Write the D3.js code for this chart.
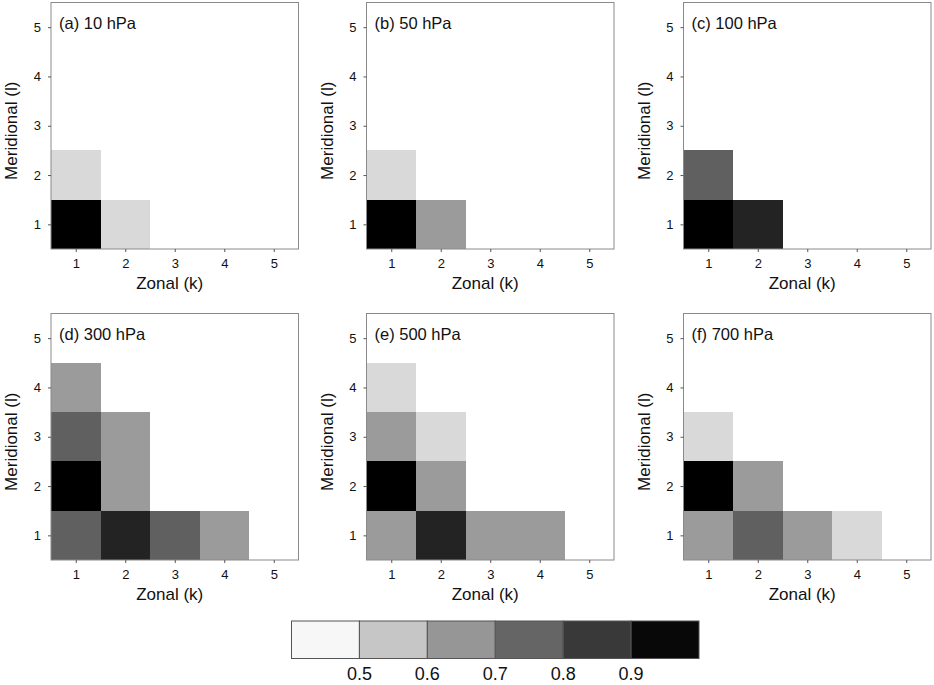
<!DOCTYPE html>
<html><head><meta charset="utf-8">
<script src="https://cdn.jsdelivr.net/npm/d3@7/dist/d3.min.js"></script>
<style>
body{margin:0;background:#fff;}
text{font-family:"Liberation Sans",Arial,Helvetica,sans-serif;fill:#111;}
</style></head>
<body><svg id="c" width="934" height="685"></svg>
<script>
// ---- data ----
const panelTitles = ["(a) 10 hPa","(b) 50 hPa","(c) 100 hPa","(d) 300 hPa","(e) 500 hPa","(f) 700 hPa"];
const zonalTicks = [1,2,3,4,5];
const meridTicks = [1,2,3,4,5];
// grids: rows = meridional l = 1..5, columns = zonal k = 1..5 (null = no value)
const grid10  = [[0.95,0.55,null,null,null],[0.55,null,null,null,null],[null,null,null,null,null],[null,null,null,null,null],[null,null,null,null,null]];
const grid50  = [[0.95,0.65,null,null,null],[0.55,null,null,null,null],[null,null,null,null,null],[null,null,null,null,null],[null,null,null,null,null]];
const grid100 = [[0.95,0.85,null,null,null],[0.75,null,null,null,null],[null,null,null,null,null],[null,null,null,null,null],[null,null,null,null,null]];
const grid300 = [[0.75,0.85,0.75,0.65,null],[0.95,0.65,null,null,null],[0.75,0.65,null,null,null],[0.65,null,null,null,null],[null,null,null,null,null]];
const grid500 = [[0.65,0.85,0.65,0.65,null],[0.95,0.65,null,null,null],[0.65,0.55,null,null,null],[0.55,null,null,null,null],[null,null,null,null,null]];
const grid700 = [[0.65,0.75,0.65,0.55,null],[0.95,0.65,null,null,null],[0.55,null,null,null,null],[null,null,null,null,null],[null,null,null,null,null]];
const grids = [grid10,grid50,grid100,grid300,grid500,grid700];
const breaks = [0.5,0.6,0.7,0.8,0.9];
const barLabels = ["0.5","0.6","0.7","0.8","0.9"];
const barDomain = [0.4,0.5,0.6,0.7,0.8,0.9,1.0];
const cellColors = ["#f4f4f4","#d9d9d9","#9b9b9b","#606060","#232323","#000000"];
const barColors  = ["#f7f7f7","#c6c6c6","#969696","#656565","#393939","#080808"];

// ---- layout ----
const svg = d3.select("#c");
const lefts = [51,366.5,683.5], tops = [2.5,313.5];
const W = 247.5, H = 246.5;
const cellColor = d3.scaleThreshold().domain(breaks).range(cellColors);

grids.forEach((g,i)=>{
  const x0 = lefts[i%3], y0 = tops[Math.floor(i/3)];
  const gp = svg.append("g").attr("transform",`translate(${x0},${y0})`);
  const x = d3.scaleLinear().domain([0.5,5.5]).range([0,W]);
  const y = d3.scaleLinear().domain([0.5,5.5]).range([H,0]);
  const cells = [];
  g.forEach((row,li)=>row.forEach((v,ki)=>{ if(v!==null) cells.push({k:ki+1,l:li+1,v}); }));
  gp.selectAll("rect.cell").data(cells).join("rect").attr("class","cell")
    .attr("x",d=>x(d.k-0.5)).attr("y",d=>y(d.l+0.5))
    .attr("width",d=>x(d.k+0.5)-x(d.k-0.5)).attr("height",d=>y(d.l-0.5)-y(d.l+0.5))
    .attr("fill",d=>cellColor(d.v)).attr("shape-rendering","crispEdges");
  gp.append("rect").attr("x",0).attr("y",0).attr("width",W).attr("height",H)
    .attr("fill","none").attr("stroke","#8a8a8a").attr("stroke-width",1);
  const xa = gp.append("g").attr("transform",`translate(0,${H})`)
    .call(d3.axisBottom(x).tickValues(zonalTicks).tickSize(3).tickPadding(7).tickFormat(d3.format("d")));
  const ya = gp.append("g")
    .call(d3.axisLeft(y).tickValues(meridTicks).tickSize(3).tickPadding(7).tickFormat(d3.format("d")));
  [xa,ya].forEach(a=>{
    a.select(".domain").remove();
    a.selectAll(".tick line").attr("stroke","#555");
    a.selectAll(".tick text").style("font-family","'Liberation Sans',Arial,sans-serif").style("font-size","13px").attr("fill","#222");
  });
  gp.append("text").attr("x",W/2-5).attr("y",H+40).attr("text-anchor","middle")
    .style("font-size","17px").text("Zonal (k)");
  gp.append("text").attr("transform",`translate(-34,${H/2+5}) rotate(-90)`).attr("text-anchor","middle")
    .style("font-size","17px").text("Meridional (l)");
  gp.append("text").attr("x",8).attr("y",26.5).style("font-size","16.5px").text(panelTitles[i]);
});

// ---- colour bar ----
const bx = d3.scaleLinear().domain([0.4,1.0]).range([291.5,699]);
const bar = svg.append("g");
const segs = d3.pairs(barDomain).map((p,i)=>({a:p[0],b:p[1],c:barColors[i]}));
bar.selectAll("rect").data(segs).join("rect")
  .attr("x",d=>bx(d.a)).attr("y",621).attr("width",d=>bx(d.b)-bx(d.a)).attr("height",37.5)
  .attr("fill",d=>d.c).attr("stroke","#555").attr("stroke-width",1);
bar.selectAll("text").data(breaks).join("text")
  .attr("x",d=>bx(d)).attr("y",680).attr("text-anchor","middle")
  .style("font-size","18px").text((d,i)=>barLabels[i]);
</script></body></html>
